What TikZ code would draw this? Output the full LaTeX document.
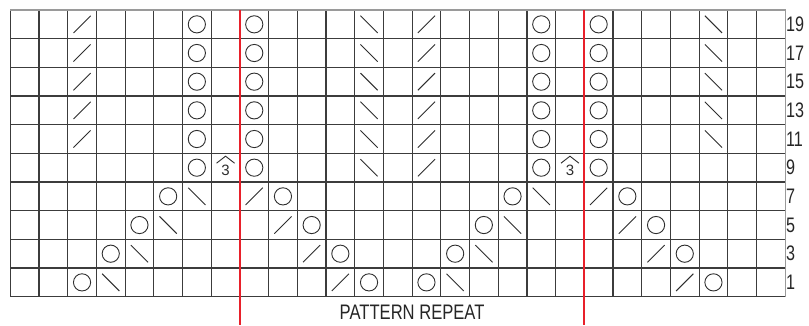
\documentclass[tikz,border=0pt]{standalone}
\usepackage{fontspec}
\setmainfont{Liberation Sans}
\definecolor{gridc}{HTML}{3C3C3C}
\definecolor{edgec}{HTML}{9A9A9A}
\definecolor{symc}{HTML}{2E2E2E}
\definecolor{repc}{HTML}{E8202A}
\tikzset{
  gridline/.style={draw=gridc,line width=1.2pt},
  edgeline/.style={draw=edgec,line width=1.2pt},
  symline/.style={draw=symc,line width=0.9pt},
  repline/.style={draw=repc,line width=1.8pt},
  rowlab/.style={anchor=west,inner sep=0pt,font=\fontsize{21}{21}\selectfont,xscale=0.77,text=black!85},
  replab/.style={inner sep=0pt,font=\fontsize{21}{21}\selectfont,xscale=0.79,text=black!85},
  yarnover/.pic={\draw[symline] (0,0) circle[radius=8.6pt];},
  ktog/.pic={\draw[symline] (-8.6,8.6) -- (8.6,-8.6);},
  ssk/.pic={\draw[symline] (-8.6,-8.6) -- (8.6,8.6);},
  cdd/.pic={\draw[symline] (-9,-4.5) -- (0,-11.5) -- (9,-4.5);
            \node[inner sep=0pt,font=\fontsize{15}{15}\selectfont,text=symc] at (0,2.3) {3};}
}
\begin{document}
\begin{tikzpicture}[x=1pt,y=-1pt]
\def\L{10.3}\def\T{10}\def\s{28.7}\def\v{28.67}
\useasboundingbox (0,0) rectangle (809,325);
\fill[white] (0,0) rectangle (809,325);
% grid
\foreach \c in {0,...,26} {
  \draw[gridline] ({\L+\c*\s},\T) -- ({\L+\c*\s},{\T+10*\v});
}
\foreach \r in {1,...,10} {
  \draw[gridline] (\L,{\T+\r*\v}) -- ({\L+27*\s},{\T+\r*\v});
}
\draw[edgeline] (\L,\T) -- ({\L+27*\s},\T) -- ({\L+27*\s},{\T+10*\v});
% symbols
\newcommand{\putsym}[3]{\pic at ({\L+(#2+0.5)*\s},{\T+(#3+0.5)*\v}) {#1};}
\foreach \r in {0,...,4} {
  \foreach \c in {2,14} {\putsym{ktog}{\c}{\r}}
  \foreach \c in {12,24} {\putsym{ssk}{\c}{\r}}
  \foreach \c in {6,8,18,20} {\putsym{yarnover}{\c}{\r}}
}
\foreach \c in {6,8,18,20} {\putsym{yarnover}{\c}{5}}
\foreach \c in {7,19} {\putsym{cdd}{\c}{5}}
\putsym{ssk}{12}{5}
\putsym{ktog}{14}{5}
\foreach \c in {5,9,17,21} {\putsym{yarnover}{\c}{6}}
\foreach \c in {6,18} {\putsym{ssk}{\c}{6}}
\foreach \c in {8,20} {\putsym{ktog}{\c}{6}}
\foreach \c in {4,10,16,22} {\putsym{yarnover}{\c}{7}}
\foreach \c in {5,17} {\putsym{ssk}{\c}{7}}
\foreach \c in {9,21} {\putsym{ktog}{\c}{7}}
\foreach \c in {3,11,15,23} {\putsym{yarnover}{\c}{8}}
\foreach \c in {4,16} {\putsym{ssk}{\c}{8}}
\foreach \c in {10,22} {\putsym{ktog}{\c}{8}}
\foreach \c in {2,12,14,24} {\putsym{yarnover}{\c}{9}}
\foreach \c in {3,15} {\putsym{ssk}{\c}{9}}
\foreach \c in {11,23} {\putsym{ktog}{\c}{9}}
% pattern repeat lines
\coordinate (ra1) at ({\L+8*\s},\T);
\coordinate (ra2) at ({\L+8*\s},325);
\coordinate (rb1) at ({\L+20*\s},\T);
\coordinate (rb2) at ({\L+20*\s},325);
\draw[repline] (ra1) -- (ra2);
\draw[repline] (rb1) -- (rb2);
% row labels
\foreach \r in {0,...,9} {
  \pgfmathtruncatemacro{\lab}{19-2*\r}
  \node[rowlab] (lab\r) at (786,{\T+(\r+0.5)*\v}) {\lab};
}
\node[replab] (rep) at ({\L+14*\s},312.5) {PATTERN REPEAT};
\end{tikzpicture}
\end{document}
